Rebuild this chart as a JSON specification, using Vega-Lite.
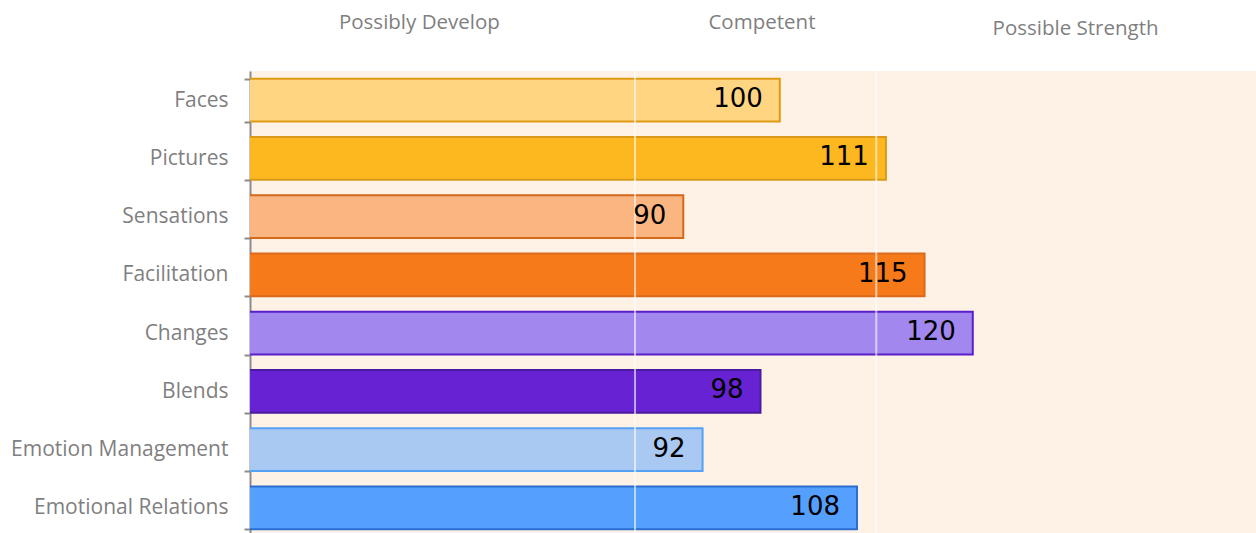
{
  "$schema": "https://vega.github.io/schema/vega-lite/v6.json",
  "width": 1006,
  "height": 466,
  "autosize": "none",
  "padding": {"left": 250, "top": 71, "right": 0, "bottom": 0},
  "background": "white",
  "config": {"view": {"fill": "#FEF1E6", "stroke": null}},
  "datasets": {
    "scores": [
      {"branch": "Faces", "score": 100},
      {"branch": "Pictures", "score": 111},
      {"branch": "Sensations", "score": 90},
      {"branch": "Facilitation", "score": 115},
      {"branch": "Changes", "score": 120},
      {"branch": "Blends", "score": 98},
      {"branch": "Emotion Management", "score": 92},
      {"branch": "Emotional Relations", "score": 108}
    ],
    "cuts": [{"cut": 85}, {"cut": 110}]
  },
  "resolve": {"axis": {"x": "independent"}},
  "layer": [
    {
      "data": {"name": "scores"},
      "mark": {"type": "bar", "strokeWidth": 2, "clip": true},
      "encoding": {
        "y": {
          "field": "branch", "type": "nominal", "sort": null,
          "scale": {"paddingInner": 0.262, "paddingOuter": 0.131},
          "axis": {
            "title": null, "tickBand": "extent",
            "domainColor": "#8c8c8c", "domainWidth": 2,
            "tickColor": "#8c8c8c", "tickWidth": 2, "tickSize": 6,
            "labelColor": "#7f7f7f", "labelFont": "Open Sans", "labelFontSize": 21,
            "labelPadding": 16, "labelLimit": 300
          }
        },
        "x": {
          "field": "score", "type": "quantitative",
          "scale": {"domain": [45.1, 149.35], "zero": false, "nice": false},
          "axis": null
        },
        "fill": {
          "field": "branch", "type": "nominal", "legend": null,
          "scale": {
            "domain": ["Faces", "Pictures", "Sensations", "Facilitation", "Changes", "Blends", "Emotion Management", "Emotional Relations"],
            "range": ["#FFD581", "#FDB71F", "#FBB581", "#F77A1A", "#A287EF", "#6722D4", "#A9C8F2", "#55A0FE"]
          }
        },
        "stroke": {
          "field": "branch", "type": "nominal", "legend": null,
          "scale": {
            "domain": ["Faces", "Pictures", "Sensations", "Facilitation", "Changes", "Blends", "Emotion Management", "Emotional Relations"],
            "range": ["#DF9A14", "#D99A1A", "#D4691C", "#D96A1C", "#5A1ECC", "#4A1B9C", "#55A1F6", "#2A6ED0"]
          }
        }
      }
    },
    {
      "data": {"name": "cuts"},
      "mark": {"type": "rule", "color": "white", "strokeWidth": 2, "opacity": 0.6},
      "encoding": {
        "x": {
          "field": "cut", "type": "quantitative",
          "axis": {
            "orient": "top", "title": null, "domain": false, "ticks": false, "grid": false,
            "values": [62.6, 98.1, 130.6],
            "labelExpr": "datum.value < 80 ? 'Possibly Develop' : datum.value < 120 ? 'Competent' : 'Possible Strength'",
            "labelColor": "#7f7f7f", "labelFont": "Open Sans", "labelFontSize": 20.5,
            "labelPadding": {"condition": {"test": "datum.value > 120", "value": 33}, "value": 39},
            "labelFlush": false, "labelOverlap": false, "labelLimit": 300
          }
        }
      }
    },
    {
      "data": {"name": "scores"},
      "mark": {"type": "text", "align": "right", "baseline": "middle", "dx": -17, "dy": -1, "font": "DejaVu Sans", "fontSize": 26, "color": "black"},
      "encoding": {
        "y": {"field": "branch", "type": "nominal", "sort": null},
        "x": {"field": "score", "type": "quantitative", "axis": null},
        "text": {"field": "score", "type": "quantitative"}
      }
    }
  ]
}
